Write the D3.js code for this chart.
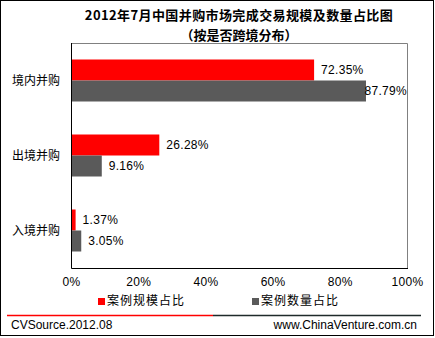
<!DOCTYPE html>
<html>
<head>
<meta charset="utf-8">
<script src="https://cdn.jsdelivr.net/npm/d3@7"></script>
<style>
  html, body { margin: 0; padding: 0; background: #fff; }
  svg { display: block; }
  text { font-family: "Liberation Sans", Arial, "Noto Sans CJK SC", sans-serif; fill: #000; }
  .cjk { font-family: "Noto Sans CJK SC", sans-serif; }
</style>
</head>
<body>
<svg id="chart" width="435" height="338"></svg>
<script>
// Share of completed M&A deals, July 2012, split by cross-border type
const titleLines = ["2012年7月中国并购市场完成交易规模及数量占比图", "（按是否跨境分布）"];
const categories = ["境内并购", "出境并购", "入境并购"];
const seriesNames = ["案例规模占比", "案例数量占比"];
const seriesColors = ["#ff0000", "#5a5a5a"];
const scaleShare = [72.35, 26.28, 1.37];   // 案例规模占比 (%)
const countShare = [87.79, 9.16, 3.05];    // 案例数量占比 (%)
const xTicks = [0, 20, 40, 60, 80, 100];
const footerLeft = "CVSource.2012.08";
const footerRight = "www.ChinaVenture.com.cn";

const seriesValues = [scaleShare, countShare];
const rows = categories.map((c, i) => ({
  category: c,
  values: seriesValues.map((vals, s) => ({ series: s, value: vals[i] }))
}));

const svg = d3.select("#chart");
const plot = { left: 71, right: 407, top: 43, bottom: 268 };

// outer frame
svg.append("rect")
  .attr("x", 0.5).attr("y", 0.5).attr("width", 433).attr("height", 335)
  .attr("fill", "#fff").attr("stroke", "#000").attr("stroke-width", 1);

// title
svg.selectAll("text.title").data(titleLines).join("text")
  .attr("class", "title cjk")
  .attr("x", 239).attr("y", (d, i) => 20 + i * 20)
  .attr("text-anchor", "middle")
  .attr("font-size", 13).attr("font-weight", "bold")
  .attr("letter-spacing", (d, i) => i === 0 ? 0.4 : 0)
  .text(d => d);

const x = d3.scaleLinear().domain([0, 100]).range([plot.left, plot.right]);
const y = d3.scaleBand().domain(categories).range([plot.top, plot.bottom])
  .paddingInner(0.44).paddingOuter(0.22);
const ySub = d3.scaleBand().domain(d3.range(seriesNames.length)).range([0, y.bandwidth()]);

// plot area border: grey top/right, black left/bottom
svg.append("path")
  .attr("d", `M${plot.left},${plot.top + 0.5}H${plot.right + 0.5}V${plot.bottom}`)
  .attr("fill", "none").attr("stroke", "#808080");
svg.append("path")
  .attr("d", `M${plot.left + 0.5},${plot.top}V${plot.bottom + 0.5}H${plot.right + 1}`)
  .attr("fill", "none").attr("stroke", "#000");

// bars
const groups = svg.append("g").selectAll("g").data(rows).join("g")
  .attr("transform", d => `translate(0,${y(d.category)})`);

groups.selectAll("rect").data(d => d.values).join("rect")
  .attr("x", x(0) + 1)
  .attr("y", d => ySub(d.series))
  .attr("width", d => x(d.value) - x(0) - 1)
  .attr("height", ySub.bandwidth())
  .attr("fill", d => seriesColors[d.series]);

// value labels, kept inside the plot area
groups.selectAll("text").data(d => d.values).join("text")
  .attr("font-size", 12)
  .attr("letter-spacing", 0.3)
  .attr("y", d => ySub(d.series) + ySub.bandwidth() / 2)
  .attr("dy", "0.36em")
  .each(function (d) {
    const t = d3.select(this).text(d3.format(".2f")(d.value) + "%");
    const w = this.getComputedTextLength();
    let px = x(d.value) + 7;
    if (px + w > plot.right) px = plot.right - w;
    t.attr("x", px);
  });

// category axis
svg.append("g").selectAll("text").data(categories).join("text")
  .attr("class", "cjk")
  .attr("x", 60)
  .attr("y", d => y(d) + y.bandwidth() / 2)
  .attr("dy", "0.36em")
  .attr("text-anchor", "end")
  .attr("font-size", 12)
  .text(d => d);

// value axis
const xAxis = svg.append("g")
  .attr("transform", `translate(0,${plot.bottom})`)
  .call(d3.axisBottom(x).tickValues(xTicks).tickSize(0).tickPadding(9).tickFormat(d => d + "%"));
xAxis.select(".domain").remove();
xAxis.selectAll("text")
  .attr("font-size", 12).attr("font-family", "Liberation Sans, Arial, sans-serif")
  .attr("fill", "#000").attr("letter-spacing", 0.3);

// legend
const legendX = [98, 252];
const legend = svg.append("g").selectAll("g").data(seriesNames).join("g")
  .attr("transform", (d, i) => `translate(${legendX[i]},301)`);
legend.append("rect")
  .attr("x", 0).attr("y", -3).attr("width", 7).attr("height", 7)
  .attr("fill", (d, i) => seriesColors[i]);
legend.append("text")
  .attr("class", "cjk")
  .attr("x", 9).attr("dy", "0.36em")
  .attr("font-size", 12).attr("letter-spacing", 1)
  .text(d => d);

// footer rule and source
svg.append("line").attr("x1", 7).attr("x2", 213).attr("y1", 315.5).attr("y2", 315.5)
  .attr("stroke", "#ff0000").attr("stroke-width", 1.5);
svg.append("line").attr("x1", 213).attr("x2", 421).attr("y1", 315.5).attr("y2", 315.5)
  .attr("stroke", "#1f2a2a").attr("stroke-width", 1.5);
svg.append("text").attr("x", 11).attr("y", 329).attr("font-size", 12).text(footerLeft);
svg.append("text").attr("x", 417).attr("y", 329).attr("font-size", 12)
  .attr("text-anchor", "end").text(footerRight);
</script>
</body>
</html>
